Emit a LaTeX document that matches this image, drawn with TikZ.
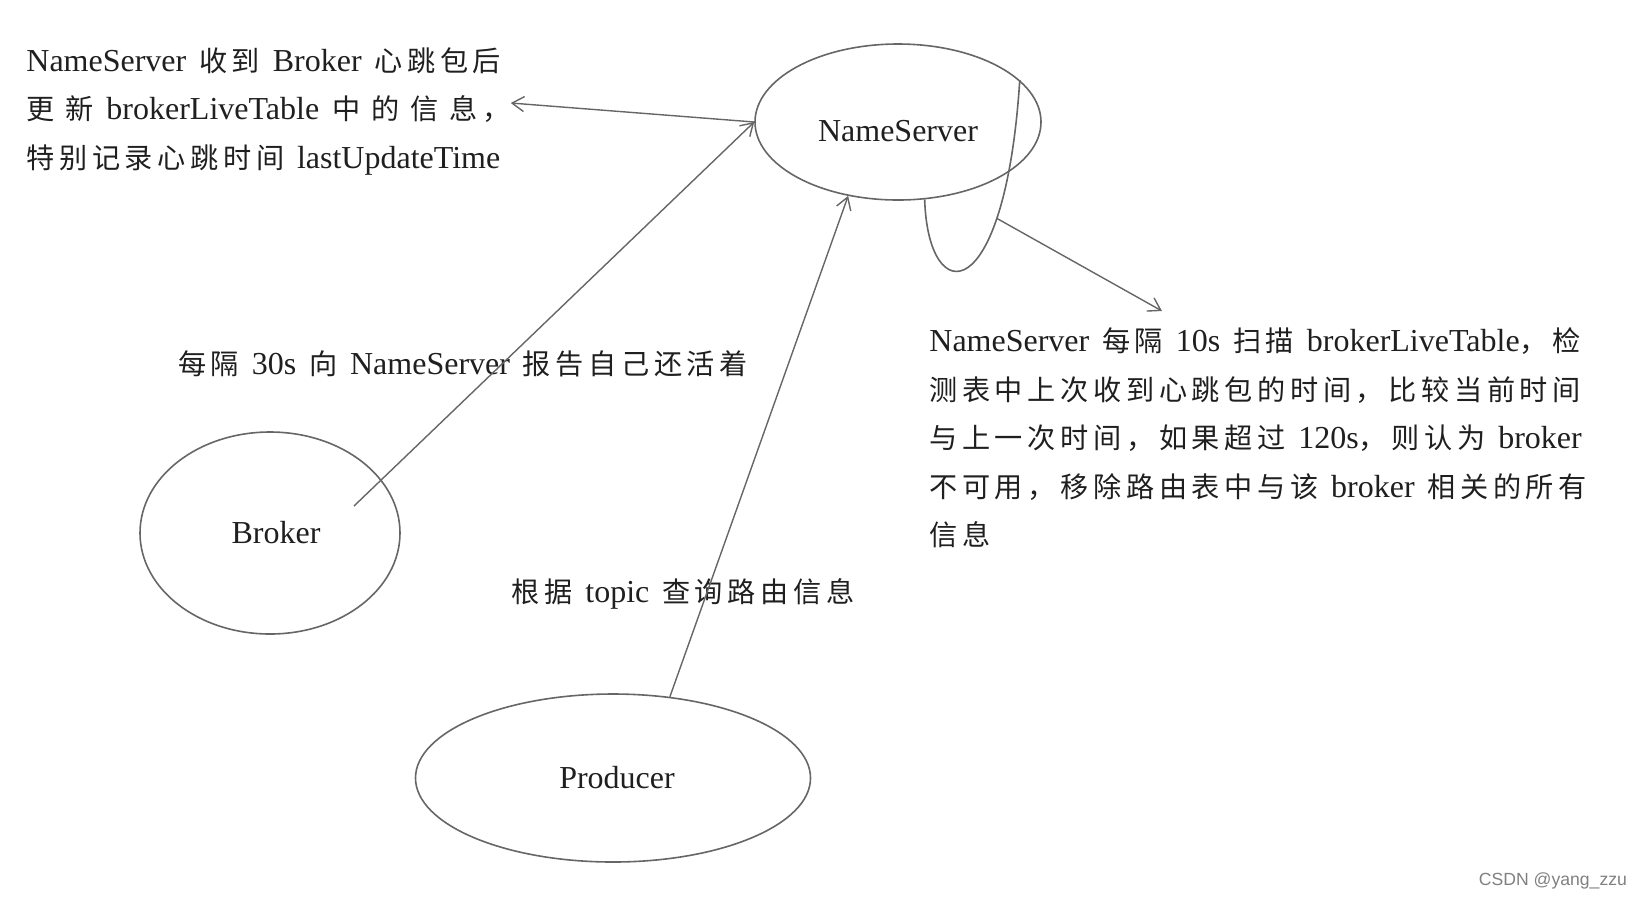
\documentclass[tikz,border=0pt]{standalone}
\usepackage{fontspec}
\setmainfont{Liberation Serif}[WordSpace=1.6]
\setsansfont{Liberation Sans}
\newfontfamily\cjk{Noto Sans CJK SC}[Scale=0.88,LetterSpace=16.5]
\usetikzlibrary{shapes.geometric, arrows.meta}

\begin{document}
\begin{tikzpicture}[x=0.5pt, y=-0.5pt,
    every node/.style={font=\fontsize{16}{24.25}\selectfont, text=black!88},
    proc/.style={ellipse, draw=black!60, line width=0.8pt, inner sep=0pt},
    note/.style={align=left, inner sep=0pt},
    link/.style={draw=black!60, line width=0.8pt},
    arrow/.style={-{Straight Barb[length=6pt,width=7.5pt]}, draw=black!60, line width=0.7pt}
  ]
    \useasboundingbox (0,0) rectangle (1648,902);

    \node[proc, minimum width=143pt, minimum height=78pt, text height=20pt] (ns) at (898,122) {NameServer};
    \node[proc, minimum width=130pt, minimum height=101pt]  (broker) at (270,533) {\hspace{6pt}Broker};
    \node[proc, minimum width=197.5pt, minimum height=84pt] (prod)   at (613,778) {\hspace{4pt}Producer};

    \node[note, anchor=west] (hbnote) at (26,111)
      {NameServer {\cjk 收到} Broker {\cjk 心跳包后}\\
       {\cjk 更 新} brokerLiveTable {\cjk 中 的 信 息，}\\
       {\cjk 特别记录心跳时间} lastUpdateTime};
    \node[note, anchor=west] (scannote) at (929,438)
      {NameServer {\cjk 每隔} 10s {\cjk 扫描} brokerLiveTable{\cjk ，检}\\
       {\cjk 测表中上次收到心跳包的时间，比较当前时间}\\
       {\cjk 与上一次时间，如果超过} 120s{\cjk ，则认为} broker\\
       {\cjk 不可用，移除路由表中与该} broker {\cjk 相关的所有}\\
       {\cjk 信息}};
    \node (alive) at (463,364) {{\cjk 每隔} 30s {\cjk 向} NameServer {\cjk 报告自己还活着}};
    \node (route) at (683,594) {{\cjk 根据} topic {\cjk 查询路由信息}};
    \node[anchor=east, font=\sffamily\fontsize{8.8}{10}\selectfont, text=black!50] (mark) at (1634,881) {CSDN @yang\_zzu};

    \coordinate (btail) at (354,506);
    \coordinate (scantip) at (1162,311);

    \draw[arrow] (btail) -- (ns.west);
    \draw[arrow] (ns.west) -- ([yshift=4pt]hbnote.east);
    \draw[arrow] (prod.55) -- (ns.-124);
    \draw[link] (ns.-71) .. controls (928,310) and (1005,310) .. (ns.19) coordinate[pos=0.73] (loopmid);
    \draw[arrow] (loopmid) -- (scantip);
  \end{tikzpicture}
\end{document}
